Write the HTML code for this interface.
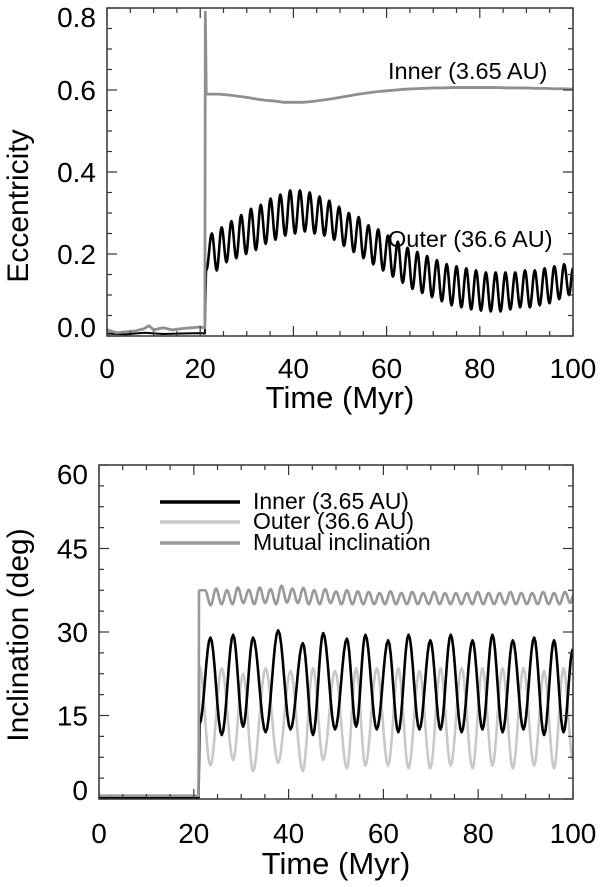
<!DOCTYPE html>
<html><head><meta charset="utf-8"><style>
html,body{margin:0;padding:0;background:#fff;}
svg{display:block;font-family:"Liberation Sans",Arial,sans-serif;}
</style></head><body>
<svg id="fig" width="600" height="887" viewBox="0 0 600 887" xmlns="http://www.w3.org/2000/svg">
<g id="top"></g>
<g id="bot"></g>
</svg>
<script>
// ---------- data: eccentricity panel ----------
const xTicks = [0, 20, 40, 60, 80, 100];
const eccTicks = [0.0, 0.2, 0.4, 0.6, 0.8];
const eccTickLabels = ["0.0", "0.2", "0.4", "0.6", "0.8"];
const incTicks = [0, 15, 30, 45, 60];
const incTickLabels = ["0", "15", "30", "45", "60"];

const eccInnerEarlyT = [0, 2, 4, 6, 8, 9, 10, 12, 14, 16, 18, 20, 21.0, 21.1, 21.3];
const eccInnerEarlyV = [0.015, 0.008, 0.01, 0.012, 0.018, 0.025, 0.015, 0.02, 0.015, 0.018, 0.02, 0.022, 0.02, 0.79, 0.59];
const eccOuterEarlyT = [0, 4, 8, 12, 16, 20, 21.0, 21.3];
const eccOuterEarlyV = [0.006, 0.004, 0.008, 0.005, 0.006, 0.007, 0.006, 0.16];
const eccInnerT = [22,24,26,28,30,32,34,36,38,40,42,44,46,48,50,52,54,56,58,60,62,64,66,68,70,72,74,76,78,80,82,84,86,88,90,92,94,96,98,100];
const eccInnerV = [0.59,0.59,0.588,0.585,0.582,0.578,0.575,0.573,0.57,0.57,0.57,0.572,0.575,0.578,0.582,0.586,0.59,0.593,0.596,0.598,0.6,0.602,0.603,0.604,0.605,0.605,0.606,0.606,0.606,0.606,0.606,0.606,0.605,0.605,0.605,0.604,0.604,0.603,0.603,0.602];
const eccOuterPeakT = [22.5,24.6,26.7,28.8,30.9,33.0,35.1,37.2,39.3,41.4,43.5,45.6,47.7,49.8,51.9,54.0,56.1,58.2,60.3,62.4,64.5,66.6,68.7,70.8,72.9,75.0,77.1,79.2,81.3,83.4,85.5,87.6,89.7,91.8,93.9,96.0,98.1];
const eccOuterPeakV = [0.25,0.265,0.28,0.295,0.31,0.32,0.335,0.345,0.355,0.355,0.35,0.34,0.33,0.315,0.30,0.29,0.27,0.26,0.245,0.23,0.215,0.205,0.195,0.185,0.175,0.17,0.165,0.16,0.155,0.155,0.155,0.155,0.16,0.16,0.165,0.17,0.175];
const eccOuterTroughV = [0.16,0.18,0.19,0.20,0.21,0.225,0.235,0.245,0.25,0.255,0.25,0.245,0.235,0.22,0.205,0.19,0.175,0.16,0.145,0.13,0.115,0.105,0.095,0.085,0.075,0.07,0.065,0.062,0.06,0.06,0.065,0.07,0.07,0.075,0.08,0.09,0.10];
const eccOuterStart = [21.3, 0.16];
const eccOuterEnd = [100, 0.165];

// ---------- data: inclination panel ----------
const incEarlyT = [0, 21.0];
const incInnerEarlyV = [0.25, 0.25];
const incOuterEarlyV = [0.45, 0.45];
const incMutualEarlyV = [0.6, 0.6];
const incInnerPeakT = [23.5,28.3,32.5,37.8,43.0,47.3,52.3,56.2,61.0,65.3,69.9,74.2,78.8,83.0,87.3,91.8,96.0,100];
const incInnerPeakV = [29,29.5,29,30.3,28,29.8,28.8,29.5,28.5,29.5,28.5,29.5,28.5,29.5,28.5,29,28.5,27];
const incInnerTroughV = [11.5,13,12,12.5,11.5,12.5,13,12.5,12,12.5,12.5,12,12.5,12,12.5,11.5,12];
const incInnerStart = [21.2, 13.5];
const incOuterTroughV = [6,7,5,6.5,5,7,5.5,6,6,5.5,5.5,6,5.5,6,5.5,6,5.5,7];
const incOuterPeakV = [23.5,22.5,23.5,23,23.5,23,23.5,23.5,23.5,23,23.5,23.5,23.5,23.5,23.5,23,23.5];
const incOuterStart = [21.2, 24];
const incMutualPeakT = [22.4,24.7,27.0,29.3,31.6,33.9,36.2,38.5,40.8,43.1,45.4,47.7,50.0,52.3,54.6,56.9,59.2,61.5,63.8,66.1,68.4,70.7,73.0,75.3,77.6,79.9,82.2,84.5,86.8,89.1,91.4,93.7,96.0,98.3];
const incMutualPeakV = [37.5,37.8,37.5,38,37.6,38,37.7,38.3,37.8,37.9,37.5,37.7,37.3,37.5,37.3,37.2,37,37.3,37,37.2,37,37.2,37,37,37,37.2,37,37,37.2,37,37,37.2,37,37.2];
const incMutualTroughV = [34.8,35,35,35.2,35,35.2,35,35.3,35.2,35,35,35.2,35,35,35,35,35,35,35,35,35,35,35,35,35,35,35,35,35,35,35,35,35,35.2];
const incMutualStart = [21.1, 37.5];
const incMutualEnd = [100, 36.5];

// ---------- rendering ----------
const NS = "http://www.w3.org/2000/svg";
function mk(parent, tag, attrs) {
  const e = document.createElementNS(NS, tag);
  for (const k in attrs) e.setAttribute(k, attrs[k]);
  parent.appendChild(e);
  return e;
}
function makeScale(d0, d1, r0, r1) { return v => r0 + (v - d0) * (r1 - r0) / (d1 - d0); }
function smoothPts(ext) {
  const out = [ext[0]];
  for (let i = 1; i < ext.length; i++) {
    const [t0, v0] = ext[i - 1], [t1, v1] = ext[i];
    for (let s = 1; s <= 8; s++) {
      const f = s / 8, w = (1 - Math.cos(Math.PI * f)) / 2;
      out.push([t0 + (t1 - t0) * f, v0 + (v1 - v0) * w]);
    }
  }
  return out;
}
function pathD(pts, sx, sy) {
  return pts.map((p, i) => (i ? "L" : "M") + sx(p[0]).toFixed(2) + "," + sy(p[1]).toFixed(2)).join("");
}
function zip(T, V) { return T.map((t, i) => [t, V[i]]); }

function axes(g, x0, x1, y0, y1, sx, sy, yTicks, yLabels, yMinor, xLabY) {
  for (let t = 0; t <= 100; t += 5) {
    const x = sx(t), L = (t % 20 === 0) ? 10 : 5;
    const a = mk(g, "line", {x1: x, x2: x, y1: y1, y2: y1 - L, stroke: "#333", "stroke-width": 1.2});
    
    
    const b = mk(g, "line", {x1: x, x2: x, y1: y0, y2: y0 + L, stroke: "#333", "stroke-width": 1.2});
    
    
  }
  const ya = yTicks[0], yb = yTicks[yTicks.length - 1];
  for (let k = 0; ya + k * yMinor <= yb + 1e-9; k++) {
    const v = ya + k * yMinor, y = sy(v), L = (k % 4 === 0) ? 10 : 5;
    const a = mk(g, "line", {x1: x0, x2: x0 + L, y1: y, y2: y, stroke: "#333", "stroke-width": 1.2});
    
    
    const b = mk(g, "line", {x1: x1, x2: x1 - L, y1: y, y2: y, stroke: "#333", "stroke-width": 1.2});
    
    
  }
  xTicks.forEach(t => {
    const e = mk(g, "text", {x: sx(t), y: xLabY, "text-anchor": "middle", "font-size": 28, fill: "#000"});
    e.textContent = String(t);
    
    
  });
  yTicks.forEach((v, i) => {
    let y = sy(v);
    y = Math.max(y0 + 9, Math.min(y1 - 9, y));
    const e = mk(g, "text", {x: x0 - 11, y: y + 10, "text-anchor": "end", "font-size": 28, fill: "#000"});
    e.textContent = yLabels[i];
    
    
  });
  const f = mk(g, "rect", {x: x0, y: y0, width: x1 - x0, height: y1 - y0, fill: "none", stroke: "#333", "stroke-width": 1.5});
  
  
}
function line(g, d, color, w, name) {
  const p = mk(g, "path", {d: d, fill: "none", stroke: color, "stroke-width": w, "stroke-linejoin": "round"});
  
  
  return p;
}
function text(g, x, y, s, size, name, extra) {
  const e = mk(g, "text", Object.assign({x: x, y: y, "font-size": size, fill: "#000"}, extra || {}));
  e.textContent = s;
  
  
  return e;
}

(function () {
  const g = document.getElementById("top");
  const X0 = 107, X1 = 573, Y0 = 8, Y1 = 336;
  const sx = makeScale(0, 100, X0, X1), sy = makeScale(0, 0.8, Y1, Y0);
  const clip = mk(g, "clipPath", {id: "c1"});
  mk(clip, "rect", {x: X0, y: Y0, width: X1 - X0, height: Y1 - Y0});
  const d = mk(g, "g", {"clip-path": "url(#c1)"});
  
  
  line(d, pathD(zip(eccOuterEarlyT, eccOuterEarlyV), sx, sy), "#000", 2, "outer-ecc-early");
  const ext = [eccOuterStart];
  eccOuterPeakT.forEach((t, i) => {
    ext.push([t, eccOuterPeakV[i]]);
    const tn = i + 1 < eccOuterPeakT.length ? (t + eccOuterPeakT[i + 1]) / 2 : t + 1.05;
    ext.push([tn, eccOuterTroughV[i]]);
  });
  ext.push(eccOuterEnd);
  line(d, pathD(smoothPts(ext), sx, sy), "#000", 2.6, "outer-eccentricity-line");
  line(d, pathD(zip(eccInnerEarlyT, eccInnerEarlyV).concat(zip(eccInnerT, eccInnerV)), sx, sy), "#8f8f8f", 2.8, "inner-eccentricity-line");
  axes(g, X0, X1, Y0, Y1, sx, sy, eccTicks, eccTickLabels, 0.05, 378);
  text(g, 388, 79, "Inner (3.65 AU)", 23.5, "inner-annotation");
  text(g, 388, 247, "Outer (36.6 AU)", 23.5, "outer-annotation");
  text(g, 340, 408, "Time (Myr)", 31, "x-axis-title", {"text-anchor": "middle"});
  text(g, 28, 206, "Eccentricity", 30, "y-axis-title", {"text-anchor": "middle", transform: "rotate(-90 28 206)"});
})();

(function () {
  const g = document.getElementById("bot");
  const X0 = 99, X1 = 573, Y0 = 465, Y1 = 799;
  const sx = makeScale(0, 100, X0, X1), sy = makeScale(0, 60, Y1, Y0);
  const clip = mk(g, "clipPath", {id: "c2"});
  mk(clip, "rect", {x: X0, y: Y0, width: X1 - X0, height: Y1 - Y0});
  const d = mk(g, "g", {"clip-path": "url(#c2)"});
  
  
  const eo = zip(incEarlyT, incOuterEarlyV).concat([incOuterStart]);
  const so = [incOuterStart];
  incInnerPeakT.forEach((t, i) => {
    so.push([t, incOuterTroughV[i]]);
    if (i + 1 < incInnerPeakT.length) so.push([(t + incInnerPeakT[i + 1]) / 2, incOuterPeakV[i]]);
  });
  line(d, pathD(eo, sx, sy) + pathD(smoothPts(so), sx, sy), "#c8c8c8", 2.6, "outer-inclination-line");
  const ei = zip(incEarlyT, incInnerEarlyV).concat([incInnerStart]);
  const si = [incInnerStart];
  incInnerPeakT.forEach((t, i) => {
    si.push([t, incInnerPeakV[i]]);
    if (i + 1 < incInnerPeakT.length) si.push([(t + incInnerPeakT[i + 1]) / 2, incInnerTroughV[i]]);
  });
  line(d, pathD(ei, sx, sy) + pathD(smoothPts(si), sx, sy), "#000", 2.6, "inner-inclination-line");
  const em = zip(incEarlyT, incMutualEarlyV).concat([incMutualStart]);
  const sm = [incMutualStart];
  incMutualPeakT.forEach((t, i) => {
    sm.push([t, incMutualPeakV[i]]);
    const tn = i + 1 < incMutualPeakT.length ? (t + incMutualPeakT[i + 1]) / 2 : t + 1.15;
    sm.push([tn, incMutualTroughV[i]]);
  });
  sm.push(incMutualEnd);
  line(d, pathD(em, sx, sy) + pathD(smoothPts(sm), sx, sy), "#999", 2.6, "mutual-inclination-line");
  axes(g, X0, X1, Y0, Y1, sx, sy, incTicks, incTickLabels, 3.75, 843);
  const lg = mk(g, "g", {});
  
  
  const items = [["Inner (3.65 AU)", "#000", 502], ["Outer (36.6 AU)", "#c8c8c8", 522], ["Mutual inclination", "#999", 543]];
  items.forEach(it => {
    line(lg, "M160," + it[2] + "L240," + it[2], it[1], 3.5, "legend-swatch");
    text(lg, 253, it[2] + 7, it[0], 23, "legend-entry");
  });
  text(g, 336, 874, "Time (Myr)", 31, "x-axis-title", {"text-anchor": "middle"});
  text(g, 28, 635, "Inclination (deg)", 30, "y-axis-title", {"text-anchor": "middle", transform: "rotate(-90 28 635)"});
})();
</script>
</body></html>
